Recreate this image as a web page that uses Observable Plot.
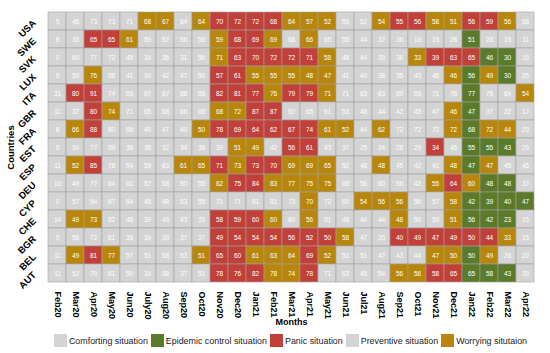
<!DOCTYPE html>
<html><head><meta charset="utf-8">
<script src="https://cdn.jsdelivr.net/npm/d3@7"></script>
<script src="https://cdn.jsdelivr.net/npm/@observablehq/plot@0.6"></script>
<style>
body{margin:0;background:#fff;font-family:"Liberation Sans",Arial,sans-serif;}
#chart{width:550px;}
.lg-swatches-wrap{justify-content:center;min-height:0 !important;margin:5px 0 0 34px;}
.lg-swatches-wrap .lg-swatch{margin-right:3px;}
.lg-swatches-wrap .lg-swatch > svg{margin-right:2px;}
</style>
</head><body><div id="chart"></div>
<script>
const months = ["Feb20","Mar20","Apr20","May20","Jun20","July20","Aug20","Sep20","Oct20","Nov20","Dec20","Jan21","Feb21","Mar21","Apr21","May21","Jun21","Jul21","Aug21","Sep21","Oct21","Nov21","Dec21","Jan22","Feb22","Mar22","Apr22"];
const countries = ["USA","SWE","SVK","LUX","ITA","GBR","FRA","EST","ESP","DEU","CYP","CHE","BGR","BEL","AUT"];

const categories = ["Comforting situation","Epidemic control situation","Panic situation","Preventive situation","Worrying situtaion"];
const categoryCodes = ["C","E","P","V","W"];
const categoryColors = ["#d4d4d4","#5b7b2b","#c2403a","#d4d4d4","#b8860b"];

const USA = [5,46,73,73,71,68,67,64,64,70,72,72,68,64,57,52,55,52,54,55,56,58,51,56,59,56,58];
const SWE = [8,35,65,65,61,59,57,56,56,59,68,69,69,68,66,65,55,44,37,36,19,19,28,51,28,19,11];
const SVK = [0,60,77,72,45,39,36,31,56,71,63,70,72,72,71,58,48,44,39,36,33,39,63,65,46,30,16];
const LUX = [9,50,76,58,41,30,42,47,50,57,61,55,55,55,48,47,41,40,38,35,43,46,46,56,49,30,25];
const ITA = [31,80,91,74,69,67,67,68,68,82,81,77,76,79,79,71,71,63,63,69,69,71,76,77,76,64,54];
const GBR = [11,37,80,74,71,65,68,66,68,68,72,87,87,60,65,61,53,48,44,42,45,47,46,47,37,22,17];
const FRA = [8,66,88,80,66,40,47,49,50,78,69,64,62,67,74,61,52,44,62,72,72,72,72,68,72,44,23];
const EST = [0,34,77,59,38,35,32,34,35,39,51,49,42,56,61,43,37,25,24,28,29,34,45,55,55,43,29];
const ESP = [11,52,85,78,54,59,63,61,65,71,73,73,70,69,69,65,52,48,48,45,42,41,48,47,47,45,45];
const DEU = [10,49,77,64,61,57,58,50,55,62,75,84,83,77,75,75,68,56,60,56,42,55,64,60,48,48,37];
const CYP = [0,57,94,67,64,48,48,53,55,71,71,81,81,73,70,72,60,54,56,56,56,57,58,42,39,40,47];
const CHE = [14,49,73,62,45,39,43,43,33,58,59,60,60,60,56,51,48,44,44,48,50,50,51,56,42,23,15];
const BGR = [0,58,72,61,39,39,39,37,37,49,54,54,54,56,52,50,58,47,20,40,49,47,49,50,44,33,15];
const BEL = [11,49,81,77,57,51,58,53,51,65,60,61,63,64,69,52,51,51,47,43,44,47,50,50,49,28,22];
const AUT = [11,53,79,61,50,39,38,37,51,78,76,82,78,74,78,71,63,46,54,56,56,58,65,65,58,43,39];

const USA_cat = "CVVVVWWVWPPPPWWWVVWPPWWPPWV";
const SWE_cat = "CCPPWVVVVWPPWVWVVVCCCCCECCC";
const SVK_cat = "CVVVVCCCVWPPPPPWVVCCWPPPEEC";
const LUX_cat = "CVWVVCVVVPPWWWWWVVCCVVWEWEC";
const ITA_cat = "CPPVVVVVVPPPWPPWVVVVVVVEVVW";
const GBR_cat = "CCPWVVVVVWWPPVVVVVVVVVWECCC";
const FRA_cat = "CWPVVVVVWPPPPPPWWVWVVVWEWWC";
const EST_cat = "CCVVCCCCCCWWVPPVCCCCCPVEEEC";
const ESP_cat = "CWPVVVVWWPWPPWWWVVWVVVWEWVV";
const DEU_cat = "CVVVVVVVVWPPWWWWVVVVVWPWEEC";
const CYP_cat = "CVVVVVVVVVVVVVWVVWWWVVWEEEE";
const CHE_cat = "CWWVVCVVCPPPWVWVVVVWVVWEEEC";
const BGR_cat = "CVVVCCCCCPPPPPPPWVCPPPPPPWC";
const BEL_cat = "CWPWVVVVWPPWWWPWVVVVVWWEWCC";
const AUT_cat = "CVVVVCCCVPPPWWPVVVVWWPPEEEC";

const rowValues = [USA,SWE,SVK,LUX,ITA,GBR,FRA,EST,ESP,DEU,CYP,CHE,BGR,BEL,AUT];
const rowCats = [USA_cat,SWE_cat,SVK_cat,LUX_cat,ITA_cat,GBR_cat,FRA_cat,EST_cat,ESP_cat,DEU_cat,CYP_cat,CHE_cat,BGR_cat,BEL_cat,AUT_cat];

const data = [];
countries.forEach((c, i) => {
  months.forEach((m, j) => {
    data.push({country: c, month: m, value: rowValues[i][j],
      category: categories[categoryCodes.indexOf(rowCats[i][j])]});
  });
});

const font = "'Liberation Sans', Arial, sans-serif";
const plot = Plot.plot({
  width: 550, height: 329,
  marginLeft: 37, marginRight: 5, marginTop: 7, marginBottom: 42,
  style: {fontFamily: font, background: "white", fontSize: "9px"},
  x: {domain: months, padding: 0},
  y: {domain: countries, padding: 0},
  color: {domain: categories, range: categoryColors},
  marks: [
    Plot.cell(data, {x: "month", y: "country", fill: "category", stroke: "#a0a0a0", strokeWidth: 0.6}),
    Plot.text(data, {x: "month", y: "country", text: d => String(d.value), fill: "white", fontSize: 6.5}),
    Plot.axisX({tickRotate: 90, tickSize: 0, tickPadding: 4, fontWeight: "bold", fontSize: 9,
      label: "Months", labelAnchor: "center", labelOffset: 37}),
    Plot.axisY({tickRotate: -45, tickSize: 0, tickPadding: 3, fontWeight: "bold", fontSize: 9.5,
      label: "Countries", labelAnchor: "center", labelOffset: 30})
  ]
});
plot.querySelectorAll('g[aria-label$="label"] text').forEach(t => { t.setAttribute("font-weight", "bold"); });
document.getElementById("chart").appendChild(plot);

const legend = Plot.legend({
  color: {domain: categories, range: categoryColors},
  className: "lg", swatchSize: 13,
  style: {fontSize: "8.9px", fontFamily: font, color: "#222"}
});
document.getElementById("chart").appendChild(legend);
</script>
</body></html>
